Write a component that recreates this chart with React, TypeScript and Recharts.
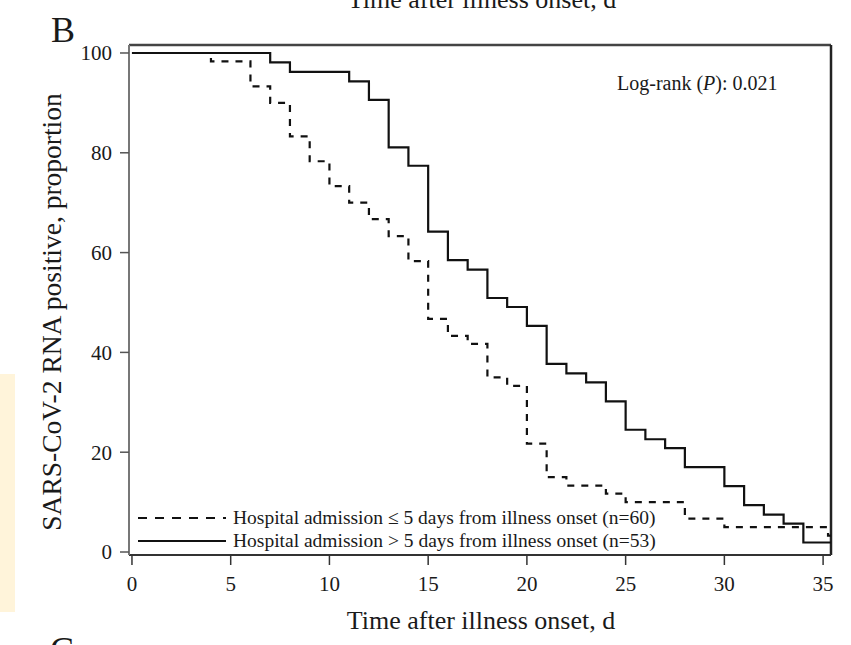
import React from 'react';
import { LineChart, Line, XAxis, YAxis, ReferenceLine } from 'recharts';

// days after onset where the curve steps, and the proportion still positive
const earlyDays = [0, 4, 6, 7, 8, 9, 10, 11, 12, 13, 14, 15, 16, 17, 18, 19, 20, 21, 22, 24, 25, 28, 30, 35.25, 35.4];
const earlyPct = [100, 98.3, 93.3, 90, 83.3, 78.3, 73.3, 70, 66.7, 63.3, 58.3, 46.7, 43.3, 41.7, 35, 33.3, 21.7, 15, 13.3, 11.7, 10, 6.7, 5, 3.3, 3.3];

const lateDays = [0, 7, 8, 11, 12, 13, 14, 15, 16, 17, 18, 19, 20, 21, 22, 23, 24, 25, 26, 27, 28, 30, 31, 32, 33, 34, 35.4];
const latePct = [100, 98.1, 96.2, 94.3, 90.6, 81.1, 77.4, 64.2, 58.5, 56.6, 50.9, 49.1, 45.3, 37.7, 35.8, 34, 30.2, 24.5, 22.6, 20.8, 17, 13.2, 9.4, 7.5, 5.7, 1.9, 1.9];

const xTicks = [0, 5, 10, 15, 20, 25, 30, 35];
const yTicks = [0, 20, 40, 60, 80, 100];

const seriesNames = [
  'Hospital admission \u2264 5 days from illness onset (n=60)',
  'Hospital admission > 5 days from illness onset (n=53)',
];

const X_MIN = -0.15;
const X_MAX = 35.4;
const Y_MIN = -0.6;
const Y_MAX = 101.6;

const serif = "'Liberation Serif', 'Times New Roman', serif";
const ink = '#1a1a1a';

const toRows = (days: number[], pct: number[]) =>
  days.map((d, i) => ({ day: d, pct: pct[i] }));

const earlyData = toRows(earlyDays, earlyPct);
const lateData = toRows(lateDays, latePct);

// legend sits inside the plot frame, so it's drawn on top of the chart
const LegendBox = () => (
  <div style={{ position: 'absolute', left: 138, top: 506, fontFamily: serif, fontSize: 19.5, color: ink, lineHeight: '23px' }}>
    {seriesNames.map((name, i) => (
      <div key={name} style={{ display: 'flex', alignItems: 'center', height: 23 }}>
        <svg width={88} height={10} style={{ marginRight: 7 }}>
          <line
            x1={0}
            y1={5}
            x2={88}
            y2={5}
            stroke="#111"
            strokeWidth={2.2}
            strokeDasharray={i === 0 ? '9 8' : undefined}
          />
        </svg>
        <span style={{ whiteSpace: 'nowrap' }}>{name}</span>
      </div>
    ))}
  </div>
);

const App: React.FC = () => {
  return (
    <div style={{ position: 'absolute', left: 0, top: 0, width: 851, height: 645, background: '#fff', overflow: 'hidden', fontFamily: serif, color: ink }}>
      {/* pale strip at the left edge */}
      <div style={{ position: 'absolute', left: 0, top: 374, width: 15, height: 238, background: '#fff4da' }} />

      {/* cut-off title of the panel above */}
      <div style={{ position: 'absolute', left: 0, width: 964, top: -13, textAlign: 'center', fontSize: 26, lineHeight: '26px', whiteSpace: 'nowrap' }}>
        Time after illness onset, d
      </div>

      <div style={{ position: 'absolute', left: 51, top: 12, fontSize: 36, lineHeight: '36px' }}>B</div>

      <LineChart
        width={851}
        height={645}
        margin={{ top: 45, right: 20, bottom: 0, left: 0 }}
        style={{ position: 'absolute', left: 0, top: 0 }}
      >
        <XAxis
          type="number"
          dataKey="day"
          domain={[X_MIN, X_MAX]}
          ticks={xTicks}
          allowDataOverflow
          height={90}
          stroke="#333"
          strokeWidth={2}
          tickSize={10}
          tickMargin={11}
          tick={{ fill: ink, fontSize: 21, fontFamily: serif }}
          tickLine={{ stroke: '#333', strokeWidth: 1.5 }}
        />
        <YAxis
          type="number"
          domain={[Y_MIN, Y_MAX]}
          ticks={yTicks}
          allowDataOverflow
          width={129}
          stroke="#777"
          strokeWidth={2}
          tickSize={9}
          tickMargin={8}
          tick={{ fill: ink, fontSize: 21, fontFamily: serif }}
          tickLine={{ stroke: '#555', strokeWidth: 1.5 }}
        />
        <ReferenceLine y={Y_MAX} stroke="#444" strokeWidth={2.5} />
        <ReferenceLine x={X_MAX} stroke="#222" strokeWidth={2.5} />
        <Line
          data={earlyData}
          dataKey="pct"
          name={seriesNames[0]}
          type="stepAfter"
          stroke="#111"
          strokeWidth={2.2}
          strokeDasharray="7 7"
          dot={false}
          isAnimationActive={false}
        />
        <Line
          data={lateData}
          dataKey="pct"
          name={seriesNames[1]}
          type="stepAfter"
          stroke="#111"
          strokeWidth={2.2}
          dot={false}
          isAnimationActive={false}
        />
      </LineChart>

      <LegendBox />

      <div
        style={{
          position: 'absolute',
          left: 52,
          top: 312,
          transform: 'translate(-50%, -50%) rotate(-90deg)',
          fontSize: 27.5,
          whiteSpace: 'nowrap',
          lineHeight: '28px',
        }}
      >
        SARS-CoV-2 RNA positive, proportion
      </div>

      <div style={{ position: 'absolute', left: 617, top: 72, fontSize: 20, lineHeight: '22px', whiteSpace: 'nowrap' }}>
        Log-rank (<i>P</i>): 0.021
      </div>

      <div style={{ position: 'absolute', left: 0, width: 962, top: 607, textAlign: 'center', fontSize: 26, lineHeight: '28px', whiteSpace: 'nowrap' }}>
        Time after illness onset, d
      </div>

      <div style={{ position: 'absolute', left: 50, top: 632, fontSize: 36, lineHeight: '36px' }}>C</div>
    </div>
  );
};

export default App;
